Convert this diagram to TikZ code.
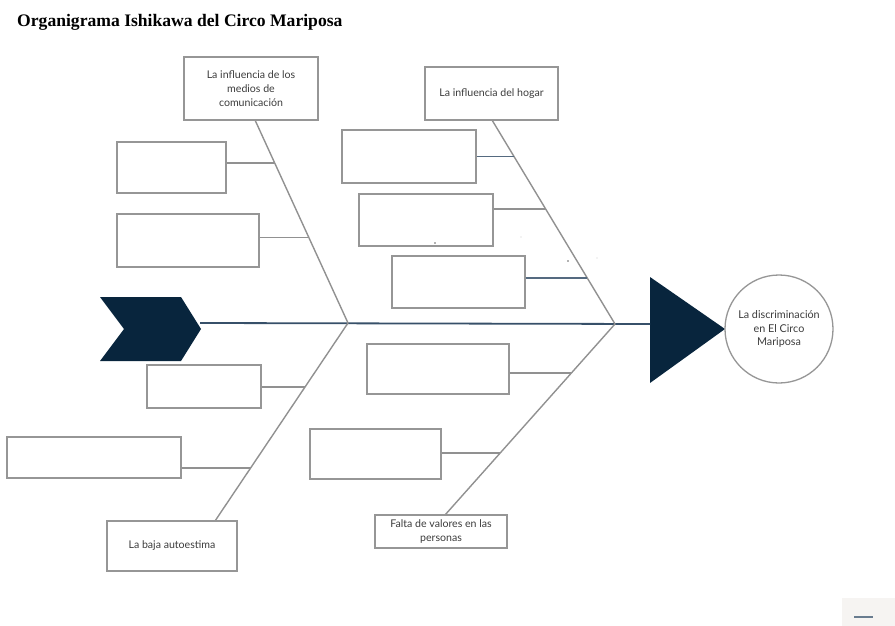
\documentclass[tikz,border=0pt]{standalone}
\usepackage{fontspec}
\setmainfont{Lato}
\newfontfamily\titlefont{Liberation Serif}
\usetikzlibrary{calc}
\definecolor{navy}{RGB}{8,37,61}
\definecolor{spinec}{RGB}{55,80,105}
\definecolor{boxc}{RGB}{150,150,150}
\definecolor{bonec}{RGB}{145,145,145}
\definecolor{txtc}{RGB}{60,60,60}
\definecolor{widgetbg}{RGB}{246,244,242}
\begin{document}
\begin{tikzpicture}[x=1pt,y=-1pt,
  box/.style={draw=boxc,line width=1.4pt,fill=white,inner sep=0pt,align=center,
    font=\fontsize{10.6}{13.8}\selectfont,text=txtc},
  bone/.style={draw=bonec,line width=1.4pt},
  twig/.style={draw=bonec,line width=1.3pt},
  twigb/.style={draw=spinec!85,line width=1.5pt}]
\useasboundingbox (0,0) rectangle (895,626);

% title
\node[anchor=base west,inner sep=0pt,font=\titlefont\bfseries\fontsize{17.6}{20}\selectfont] (title) at (17,27) {Organigrama Ishikawa del Circo Mariposa};

% head and tail
\fill[navy] (100,297) -- (181,297) -- (201,329) -- (181,361) -- (100,361) -- (124,329) -- cycle;
\fill[navy] (650,277) -- (725,329) -- (650,383) -- cycle;
\coordinate (ch) at (200,323);
\coordinate (tr) at (650,324);
\draw[spinec,line width=1.8pt] (ch) -- (tr);

% effect
\node[draw=boxc,line width=1.3pt,circle,minimum size=108pt,inner sep=0pt,align=center,
  font=\fontsize{10.8}{13.5}\selectfont,text=txtc] (goal) at (779,329)
  {La discriminación\\en El Circo\\Mariposa};

% junctions and bone ends
\coordinate (jL) at (348,323);
\coordinate (jR) at (615,324);
\coordinate (eA) at (255,120);
\coordinate (eB) at (492,120);
\coordinate (eC) at (215,521);
\coordinate (eD) at (445,515);

\draw[bone] (jL) -- (eA);
\draw[bone] (jR) -- (eB);
\draw[bone] (jL) -- (eC);
\draw[bone] (jR) -- (eD);

% points on bones
\coordinate (P1) at ($(jL)!0.788!(eA)$);
\coordinate (P2) at ($(jL)!0.421!(eA)$);
\coordinate (P3) at ($(jR)!0.821!(eB)$);
\coordinate (P4) at ($(jR)!0.564!(eB)$);
\coordinate (P5) at ($(jR)!0.225!(eB)$);
\coordinate (P6) at ($(jL)!0.323!(eC)$);
\coordinate (P7) at ($(jL)!0.732!(eC)$);
\coordinate (P8) at ($(jR)!0.257!(eD)$);
\coordinate (P9) at ($(jR)!0.675!(eD)$);

% category boxes
\node[box,minimum width=134pt,minimum height=63pt] (tA) at (251,88.5) {La influencia de los\\medios de\\comunicación};
\node[box,minimum width=133pt,minimum height=53pt] (tB) at (491.5,93.5) {La influencia del hogar};
\node[box,minimum width=130pt,minimum height=50pt] (bA) at (172,546) {La baja autoestima};
\node[box,minimum width=132pt,minimum height=33pt] (bB) at (441,531.5) {Falta de valores en las\\personas};

% cause boxes
\node[box,minimum width=109pt,minimum height=51pt] (b1) at (171.5,167.5) {};
\node[box,minimum width=142pt,minimum height=53pt] (b2) at (188,240.5) {};
\node[box,minimum width=134pt,minimum height=53pt] (b3) at (409,156.5) {};
\node[box,minimum width=134pt,minimum height=52pt] (b4) at (426,220) {};
\node[box,minimum width=133pt,minimum height=52pt] (b5) at (458.5,282) {};
\node[box,minimum width=114pt,minimum height=43pt] (b6) at (204,386.5) {};
\node[box,minimum width=174pt,minimum height=41pt] (b7) at (94,457.5) {};
\node[box,minimum width=142pt,minimum height=50pt] (b8) at (438,369) {};
\node[box,minimum width=131pt,minimum height=50pt] (b9) at (375.5,454) {};

% twigs
\draw[twig]  (P1 -| b1.east) -- (P1);
\draw[twig]  (P2 -| b2.east) -- (P2);
\draw[twigb] (P3 -| b3.east) -- (P3);
\draw[twig]  (P4 -| b4.east) -- (P4);
\draw[twigb] (P5 -| b5.east) -- (P5);
\draw[twig]  (P6 -| b6.east) -- (P6);
\draw[twig]  (P7 -| b7.east) -- (P7);
\draw[twig]  (P8 -| b8.east) -- (P8);
\draw[twig]  (P9 -| b9.east) -- (P9);

% stray dots
\fill[gray!80!black] (435,243) circle (0.9);
\fill[gray!80!black] (568,261) circle (0.9);
\fill[gray!40] (521,237) circle (0.6);
\fill[gray!40] (597,258) circle (0.6);

% corner widget
\fill[widgetbg] (842,598) rectangle (895,626);
\draw[spinec!75,line width=2.2pt] (854,617) -- (873,617);
\end{tikzpicture}
\end{document}
